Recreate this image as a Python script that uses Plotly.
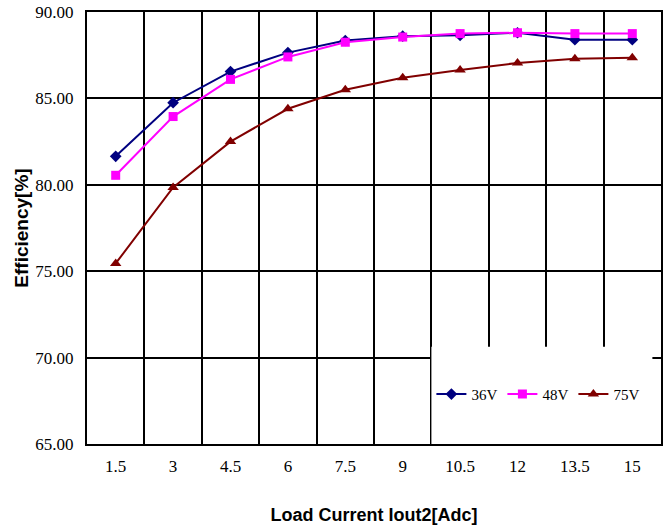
import plotly.graph_objects as go

categories = ["1.5", "3", "4.5", "6", "7.5", "9", "10.5", "12", "13.5", "15"]
eff_36v = [81.65, 84.75, 86.55, 87.65, 88.35, 88.6, 88.65, 88.8, 88.4, 88.4]
eff_48v = [80.55, 83.95, 86.1, 87.4, 88.25, 88.55, 88.75, 88.8, 88.75, 88.75]
eff_75v = [75.45, 79.85, 82.5, 84.4, 85.5, 86.2, 86.65, 87.05, 87.3, 87.35]
y_ticks = [65, 70, 75, 80, 85, 90]

series = [
    ("36V", eff_36v, "#000080", "diamond", 9),
    ("48V", eff_48v, "#FF00FF", "square", 9),
    ("75V", eff_75v, "#800000", "triangle-up", 10),
]

SERIF = "Liberation Serif, Times New Roman, serif"
SANS = "Liberation Sans, Arial, sans-serif"

fig = go.Figure()
for name, vals, color, sym, size in series:
    fig.add_trace(go.Scatter(
        x=categories, y=vals, name=name, mode="lines+markers",
        line=dict(color=color, width=2),
        marker=dict(symbol=sym, size=size, color=color),
    ))

# white legend panel covering grid
fig.add_shape(type="rect", xref="x domain", yref="y domain",
              x0=0.60, x1=0.985, y0=0.0, y1=0.225,
              fillcolor="white", line=dict(width=0), layer="above")

fig.update_layout(
    width=667, height=531,
    margin=dict(l=87, r=6, t=12, b=87),
    paper_bgcolor="white", plot_bgcolor="white",
    font=dict(family=SERIF, size=16, color="black"),
    showlegend=True,
    legend=dict(orientation="h", x=0.6, y=0.115, xanchor="left", yanchor="middle",
                bgcolor="rgba(0,0,0,0)", font=dict(family=SERIF, size=15),
                itemwidth=30, tracegroupgap=0),
)
fig.update_xaxes(
    type="category", range=[-0.5, 9.5], tickson="boundaries",
    showgrid=True, gridcolor="black", gridwidth=2,
    showline=True, linecolor="black", linewidth=2, mirror=True,
    ticks="", ticklabelstandoff=6, automargin=False,
    tickfont=dict(family=SERIF, size=17),
    title=dict(text="Load Current Iout2[Adc]", standoff=33,
               font=dict(family=SANS, size=18, weight="bold")),
    zeroline=False,
)
fig.update_yaxes(
    range=[65, 90], tickvals=y_ticks, tickformat=".2f",
    showgrid=True, gridcolor="black", gridwidth=2,
    showline=True, linecolor="black", linewidth=2, mirror=True,
    ticks="", ticklabelstandoff=8, ticklabeloverflow="allow", automargin=False,
    tickfont=dict(family=SERIF, size=17),
    title=dict(text="Efficiency[%]", standoff=2,
               font=dict(family=SANS, size=19, weight="bold")),
    zeroline=False,
)

fig.write_html(
    "out.html",
    config={"displayModeBar": False},
    post_script="document.body.style.margin='0px';document.body.style.overflow='hidden';",
)
